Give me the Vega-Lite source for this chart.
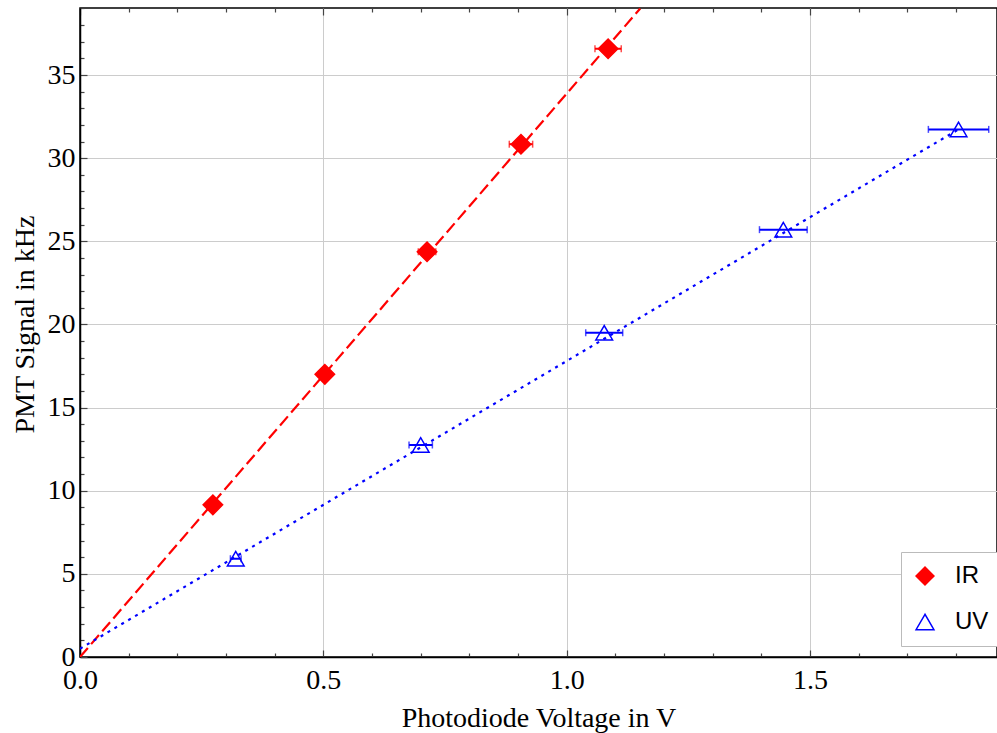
{
  "$schema": "https://vega.github.io/schema/vega-lite/v6.json",
  "width": 917,
  "height": 649,
  "autosize": {"type": "none"},
  "padding": {"left": 80, "top": 8, "right": 0, "bottom": 76},
  "background": "white",
  "config": {
    "view": {"stroke": "black", "strokeWidth": 1.5},
    "axis": {
      "labelFont": "Liberation Serif",
      "labelFontSize": 28,
      "labelColor": "black",
      "titleFont": "Liberation Serif",
      "titleFontSize": 28,
      "titleFontWeight": "normal",
      "titleColor": "black",
      "domainColor": "black",
      "domainWidth": 1.5,
      "tickColor": "#444444",
      "tickWidth": 1.2,
      "gridColor": "#cccccc",
      "gridWidth": 1,
      "labelOverlap": false,
      "labelBound": false,
      "labelFlush": false
    }
  },
  "datasets": {
    "pts": [
      {"series": "IR", "x": 0.273, "y": 9.15, "xerr": 0.008},
      {"series": "IR", "x": 0.503, "y": 17.0, "xerr": 0.013},
      {"series": "IR", "x": 0.713, "y": 24.37, "xerr": 0.018},
      {"series": "IR", "x": 0.906, "y": 30.84, "xerr": 0.024},
      {"series": "IR", "x": 1.085, "y": 36.58, "xerr": 0.027},
      {"series": "UV", "x": 0.32, "y": 5.91, "xerr": 0.011},
      {"series": "UV", "x": 0.70, "y": 12.75, "xerr": 0.024},
      {"series": "UV", "x": 1.077, "y": 19.5, "xerr": 0.038},
      {"series": "UV", "x": 1.445, "y": 25.7, "xerr": 0.049},
      {"series": "UV", "x": 1.805, "y": 31.73, "xerr": 0.062}
    ],
    "fit": [
      {"series": "IR", "x": 0, "y": 0.0},
      {"series": "IR", "x": 1.151, "y": 39.0},
      {"series": "UV", "x": 0, "y": 0.5},
      {"series": "UV", "x": 1.805, "y": 31.73}
    ]
  },
  "resolve": {"axis": {"x": "independent", "y": "independent"}},
  "layer": [
    {
      "data": {"name": "fit"},
      "mark": {"type": "line", "clip": true, "strokeWidth": 2.2},
      "encoding": {
        "x": {
          "field": "x", "type": "quantitative",
          "scale": {"domain": [0, 1.884], "nice": false, "zero": false},
          "axis": {
            "orient": "bottom",
            "values": [0, 0.1, 0.2, 0.3, 0.4, 0.5, 0.6, 0.7, 0.8, 0.9, 1, 1.1, 1.2, 1.3, 1.4, 1.5, 1.6, 1.7, 1.8],
            "labelExpr": "round(datum.value*10) % 5 === 0 ? format(datum.value, '.1f') : ''",
            "tickSize": {"condition": {"test": "round(datum.value*10) % 5 === 0", "value": -7}, "value": -4},
            "grid": true,
            "gridOpacity": {"condition": {"test": "round(datum.value*10) % 5 === 0 && datum.value > 0", "value": 1}, "value": 0},
            "labelPadding": 16,
            "title": "Photodiode Voltage in V",
            "titlePadding": 7
          }
        },
        "y": {
          "field": "y", "type": "quantitative",
          "scale": {"domain": [0, 39.03], "nice": false, "zero": false},
          "axis": {
            "orient": "left",
            "values": [0,1,2,3,4,5,6,7,8,9,10,11,12,13,14,15,16,17,18,19,20,21,22,23,24,25,26,27,28,29,30,31,32,33,34,35,36,37,38,39],
            "labelExpr": "datum.value % 5 === 0 ? format(datum.value, 'd') : ''",
            "tickSize": {"condition": {"test": "datum.value % 5 === 0", "value": -7}, "value": -4},
            "grid": true,
            "gridOpacity": {"condition": {"test": "datum.value % 5 === 0 && datum.value > 0", "value": 1}, "value": 0},
            "labelPadding": 12,
            "title": "PMT Signal in kHz",
            "titlePadding": 8,
            "titleY": 316
          }
        },
        "color": {"field": "series", "type": "nominal", "scale": {"domain": ["IR", "UV"], "range": ["#ff0000", "#0000ff"]}, "legend": null},
        "strokeDash": {"field": "series", "type": "nominal", "scale": {"domain": ["IR", "UV"], "range": [[12, 5], [3, 5]]}, "legend": null}
      }
    },
    {
      "data": {"name": "pts"},
      "mark": {"type": "errorbar", "ticks": {"size": 7, "thickness": 1.5}, "thickness": 2},
      "encoding": {
        "x": {"field": "x", "type": "quantitative", "axis": null},
        "xError": {"field": "xerr"},
        "y": {"field": "y", "type": "quantitative", "axis": null},
        "color": {"field": "series", "type": "nominal", "legend": null}
      }
    },
    {
      "data": {"name": "pts"},
      "mark": {"type": "point", "strokeWidth": 1.5, "opacity": 1},
      "encoding": {
        "x": {
          "field": "x", "type": "quantitative",
          "axis": {
            "orient": "top",
            "values": [0, 0.1, 0.2, 0.3, 0.4, 0.5, 0.6, 0.7, 0.8, 0.9, 1, 1.1, 1.2, 1.3, 1.4, 1.5, 1.6, 1.7, 1.8],
            "labels": false,
            "domain": false,
            "grid": false,
            "title": null,
            "tickSize": {"condition": {"test": "round(datum.value*10) % 5 === 0", "value": -7}, "value": -4}
          }
        },
        "y": {"field": "y", "type": "quantitative", "axis": null},
        "shape": {
          "field": "series", "type": "nominal",
          "scale": {"range": ["diamond", "triangle-up"]},
          "legend": {
            "orient": "none", "legendX": 821, "legendY": 544,
            "title": null,
            "fillColor": "white", "strokeColor": "#bbbbbb",
            "padding": 12, "cornerRadius": 0,
            "labelFont": "Liberation Sans", "labelFontSize": 24, "labelColor": "black",
            "labelOffset": 18, "rowPadding": 22, "symbolStrokeWidth": 1.5, "symbolSize": 320
          }
        },
        "stroke": {"field": "series", "type": "nominal", "scale": {"range": ["#ff0000", "#0000ff"]}, "legend": {"title": null}},
        "fill": {"field": "series", "type": "nominal", "scale": {"range": ["#ff0000", "transparent"]}, "legend": {"title": null}},
        "size": {"field": "series", "type": "nominal", "scale": {"domain": ["IR", "UV"], "range": [380, 280]}, "legend": null}
      }
    }
  ]
}
